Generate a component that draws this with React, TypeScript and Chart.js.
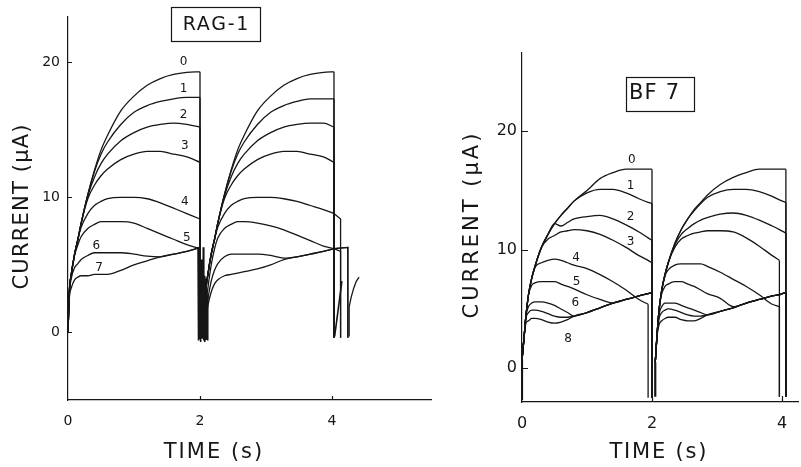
import React, { useEffect, useRef } from "react";
import { Chart, registerables } from "chart.js";

Chart.register(...registerables);

const INK = "#161616";
const FONT = "'DejaVu Sans', 'Liberation Sans', sans-serif";

// ---------------- RAG-1 (left panel) ----------------
const RAG_X_TICKS = [0, 2, 4];
const RAG_Y_TICKS = [0, 10, 20];
const RAG_LABELS = ["0", "1", "2", "3", "4", "5", "6", "7"];
const RAG_LABEL_T = [1.75, 1.75, 1.75, 1.77, 1.77, 1.8, 0.43, 0.47];
const RAG_LABEL_V = [20.0, 18.0, 16.1, 13.8, 9.7, 7.0, 6.4, 4.8];

const RAG_T1 = [0, 0.02, 0.05, 0.1, 0.15, 0.2, 0.3, 0.4, 0.5, 0.6, 0.8, 1.0, 1.2, 1.4, 1.6, 1.8, 2.0];
const RAG_A0 = [0, 3.0, 4.3, 5.8, 6.9, 8.1, 10.2, 12.0, 13.5, 14.6, 16.4, 17.5, 18.3, 18.8, 19.1, 19.25, 19.3];
const RAG_A1 = [0, 3.0, 4.3, 5.8, 6.9, 8.1, 10.2, 11.9, 13.2, 14.1, 15.4, 16.3, 16.8, 17.1, 17.3, 17.4, 17.4];
const RAG_A2 = [0, 3.0, 4.3, 5.8, 6.9, 8.1, 10.1, 11.5, 12.5, 13.2, 14.2, 14.8, 15.2, 15.4, 15.5, 15.4, 15.2];
const RAG_A3 = [0, 3.0, 4.3, 5.8, 6.9, 8.1, 9.9, 10.9, 11.6, 12.1, 12.8, 13.2, 13.4, 13.4, 13.2, 13.0, 12.6];
const RAG_A4 = [0, 3.0, 4.3, 5.8, 6.9, 7.8, 8.8, 9.4, 9.7, 9.9, 10.0, 10.0, 9.9, 9.6, 9.2, 8.8, 8.4];
const RAG_A5 = [0, 3.0, 4.3, 5.7, 6.5, 7.1, 7.7, 8.0, 8.2, 8.2, 8.2, 8.1, 7.7, 7.3, 6.9, 6.5, 6.2];
const RAG_A6 = [0, 2.8, 4.0, 4.8, 5.1, 5.4, 5.7, 5.9, 5.9, 5.9, 5.9, 5.8, 5.65, 5.6, 5.8, 6.0, 6.3];
const RAG_A7 = [0, 2.5, 3.3, 3.9, 4.1, 4.2, 4.2, 4.3, 4.3, 4.3, 4.6, 5.0, 5.3, 5.6, 5.8, 6.0, 6.3];

const RAG_T2 = [2.07, 2.09, 2.12, 2.17, 2.22, 2.27, 2.37, 2.47, 2.57, 2.67, 2.87, 3.07, 3.27, 3.47, 3.67, 3.87, 4.03];
const RAG_B0 = [0, 3.0, 4.3, 5.8, 6.9, 8.1, 10.2, 12.0, 13.5, 14.6, 16.4, 17.5, 18.3, 18.8, 19.1, 19.25, 19.3];
const RAG_B1 = [0, 3.0, 4.3, 5.8, 6.9, 8.1, 10.2, 11.9, 13.2, 14.1, 15.4, 16.3, 16.8, 17.1, 17.3, 17.3, 17.3];
const RAG_B2 = [0, 3.0, 4.3, 5.8, 6.9, 8.1, 10.1, 11.5, 12.5, 13.2, 14.2, 14.8, 15.2, 15.4, 15.5, 15.5, 15.2];
const RAG_B3 = [0, 3.0, 4.3, 5.8, 6.9, 8.1, 9.9, 10.9, 11.6, 12.1, 12.8, 13.2, 13.4, 13.4, 13.2, 13.0, 12.6];
const RAG_B4 = [0, 3.0, 4.3, 5.8, 6.9, 7.8, 8.8, 9.4, 9.7, 9.9, 10.0, 10.0, 9.9, 9.7, 9.4, 9.1, 8.8];
const RAG_B5 = [0, 2.0, 3.3, 5.0, 6.2, 7.0, 7.7, 8.0, 8.2, 8.2, 8.1, 7.9, 7.6, 7.2, 6.8, 6.4, 6.2];
const RAG_B6 = [0, 1.5, 2.5, 3.8, 4.6, 5.1, 5.6, 5.8, 5.8, 5.8, 5.8, 5.7, 5.5, 5.6, 5.8, 6.0, 6.2];
const RAG_B7 = [0, 1.0, 2.0, 3.0, 3.6, 3.9, 4.2, 4.3, 4.4, 4.5, 4.7, 5.0, 5.4, 5.6, 5.8, 6.0, 6.2];

const RAG_END1_T = [2.0, 2.0, 2.0, 2.0, 2.0, 2.0, 2.0, 2.0];
const RAG_END2_T = [4.03, 4.03, 4.03, 4.03, 4.13, 4.13, 4.24, 4.24];
const RAG_END2_V = [19.3, 17.3, 15.2, 12.6, 8.4, 6.0, 6.3, 6.3];

// switching transients
const RAG_SPIKE_T = [1.97, 1.975, 1.98, 1.985, 1.99, 1.995, 2.0, 2.005, 2.01, 2.015, 2.02, 2.025, 2.03, 2.035, 2.04, 2.045, 2.05, 2.055, 2.06, 2.065, 2.07, 2.075, 2.08, 2.085, 2.09, 2.095, 2.1, 2.105, 2.11, 2.115, 2.12];
const RAG_SPIKE_V = [6.3, -0.6, 5.6, 0.1, 5.2, -0.5, 5.0, 0.2, 4.8, -0.7, 5.4, 0.1, 5.0, -0.4, 4.6, 0.2, 6.3, -0.6, 4.4, 0.1, 4.2, -0.7, 4.0, 0.2, 3.6, -0.5, 3.2, 0.2, 2.8, -0.6, 2.4];
const RAG_DIAG_T = [4.04, 4.15];
const RAG_DIAG_V = [-0.3, 3.8];
const RAG_HOOK_T = [4.26, 4.26, 4.29, 4.33, 4.37, 4.41];
const RAG_HOOK_V = [-0.3, 1.9, 2.6, 3.3, 3.8, 4.1];

// ---------------- BF 7 (right panel) ----------------
const BF_X_TICKS = [0, 2, 4];
const BF_Y_TICKS = [0, 10, 20];
const BF_LABELS = ["0", "1", "2", "3", "4", "5", "6", "8"];
const BF_LABEL_T = [1.69, 1.67, 1.67, 1.67, 0.83, 0.84, 0.82, 0.71];
const BF_LABEL_V = [17.6, 15.4, 12.8, 10.7, 9.3, 7.3, 5.5, 2.5];

const BF_T1 = [0, 0.03, 0.06, 0.1, 0.15, 0.2, 0.3, 0.4, 0.5, 0.6, 0.7, 0.8, 1.0, 1.2, 1.4, 1.6, 1.8, 1.94, 2.0];
const BF_A0 = [0.7, 2.5, 4.4, 6.2, 7.6, 8.6, 10.2, 11.3, 12.2, 12.9, 13.5, 14.1, 15.0, 16.0, 16.5, 16.8, 16.8, 16.8, 16.8];
const BF_A1 = [0.7, 2.5, 4.4, 6.2, 7.6, 8.6, 10.2, 11.3, 12.2, 12.9, 13.5, 14.1, 14.8, 15.1, 15.1, 14.8, 14.3, 14.0, 13.9];
const BF_A2 = [0.7, 2.5, 4.4, 6.2, 7.6, 8.6, 10.2, 11.3, 12.2, 12.0, 12.3, 12.6, 12.8, 12.9, 12.6, 12.1, 11.5, 11.0, 10.8];
const BF_A3 = [0.7, 2.5, 4.4, 6.2, 7.6, 8.6, 10.2, 10.9, 11.2, 11.5, 11.6, 11.7, 11.6, 11.3, 10.8, 10.2, 9.5, 9.1, 8.9];
const BF_A4 = [0.7, 2.5, 4.4, 6.2, 7.6, 8.5, 8.9, 9.1, 9.2, 9.1, 8.9, 8.7, 8.4, 7.9, 7.3, 6.6, 5.8, 5.4, null];
const BF_A5 = [0.7, 2.5, 4.4, 6.2, 7.0, 7.2, 7.3, 7.3, 7.3, 7.1, 6.9, 6.7, 6.2, 5.8, 5.5, 5.8, 6.1, 6.3, 6.4];
const BF_A6 = [0.7, 2.5, 4.4, 5.2, 5.5, 5.6, 5.6, 5.5, 5.3, 5.0, 4.7, 4.4, 4.7, 5.1, 5.5, 5.8, 6.1, 6.3, 6.4];
const BF_A7 = [0.7, 2.5, 4.2, 4.7, 4.9, 4.9, 4.8, 4.6, 4.4, 4.3, 4.3, 4.4, 4.7, 5.1, 5.5, 5.8, 6.1, 6.3, 6.4];
const BF_A8 = [0.7, 2.4, 3.8, 4.0, 4.2, 4.2, 4.1, 3.9, 3.8, 3.9, 4.1, 4.4, 4.7, 5.1, 5.5, 5.8, 6.1, 6.3, 6.4];

const BF_T2 = [2.05, 2.08, 2.11, 2.15, 2.2, 2.25, 2.35, 2.45, 2.55, 2.65, 2.75, 2.85, 3.05, 3.25, 3.45, 3.65, 3.85, 3.96, 4.06];
const BF_B0 = [0.5, 3.0, 5.0, 6.6, 7.9, 8.9, 10.5, 11.7, 12.6, 13.4, 14.0, 14.6, 15.5, 16.1, 16.5, 16.8, 16.8, 16.8, 16.8];
const BF_B1 = [0.5, 3.0, 5.0, 6.6, 7.9, 8.9, 10.5, 11.7, 12.6, 13.3, 13.9, 14.4, 14.9, 15.1, 15.1, 14.9, 14.5, 14.2, 14.0];
const BF_B2 = [0.5, 3.0, 5.0, 6.6, 7.9, 8.9, 10.4, 11.3, 11.8, 12.2, 12.5, 12.7, 13.0, 13.1, 12.9, 12.5, 12.0, 11.7, 11.4];
const BF_B3 = [0.5, 3.0, 5.0, 6.6, 7.9, 8.9, 10.2, 10.9, 11.2, 11.4, 11.5, 11.6, 11.6, 11.5, 11.0, 10.3, 9.5, 9.1, null];
const BF_B4 = [0.5, 3.0, 5.0, 6.6, 7.8, 8.3, 8.7, 8.8, 8.8, 8.8, 8.8, 8.6, 8.1, 7.5, 6.9, 6.2, 5.4, 5.2, null];
const BF_B5 = [0.5, 3.0, 5.0, 6.3, 6.9, 7.1, 7.3, 7.3, 7.1, 6.9, 6.6, 6.3, 5.9, 5.2, 5.5, 5.8, 6.1, 6.2, 6.4];
const BF_B6 = [0.5, 3.0, 4.6, 5.2, 5.5, 5.5, 5.5, 5.3, 5.1, 4.9, 4.7, 4.5, 4.8, 5.1, 5.5, 5.8, 6.1, 6.2, 6.4];
const BF_B7 = [0.5, 3.0, 4.2, 4.7, 4.9, 5.0, 4.9, 4.7, 4.5, 4.4, 4.4, 4.5, 4.8, 5.1, 5.5, 5.8, 6.1, 6.2, 6.4];
const BF_B8 = [0.5, 2.8, 3.7, 4.0, 4.2, 4.3, 4.3, 4.1, 4.0, 4.0, 4.2, 4.5, 4.8, 5.1, 5.5, 5.8, 6.1, 6.2, 6.4];

const BF_END1_T = [2.0, 2.0, 2.0, 2.0, 1.94, 2.0, 2.0, 2.0, 2.0];
const BF_END2_T = [4.06, 4.06, 4.06, 3.96, 3.96, 4.06, 4.06, 4.06, 4.06];
const BF_RISE1_T = [0, 0];
const BF_RISE1_V = [-2.7, 0.7];
const BF_RISE2_T = [2.05, 2.05];
const BF_RISE2_V = [-2.4, 0.5];

// ---------------- building ----------------
type Pt = { x: number; y: number };
type Vals = (number | null)[];

function toPoints(t: number[], v: Vals): Pt[] {
  const out: Pt[] = [];
  t.forEach((x, i) => {
    const y = v[i];
    if (y !== null && y !== undefined) out.push({ x, y });
  });
  return out;
}

function dropPoints(pulse: Pt[], endT: number, endV: number | null, bottom: number): Pt[] {
  const last = pulse[pulse.length - 1];
  const y = endV === null || endV === undefined ? last.y : endV;
  return [last, { x: endT, y }, { x: endT, y: bottom }];
}

interface PanelSpec {
  left: number;
  width: number;
  xMax: number;
  yMin: number;
  yMax: number;
  yAxisW: number;
  xAxisH: number;
  padTop: number;
  padRight: number;
  xTicks: number[];
  yTicks: number[];
  tickFont: number;
  tickPadX: number;
  tickPadY: number;
  tickLen: number;
  t1: number[];
  t2: number[];
  pulse1: Vals[];
  pulse2: Vals[];
  end1T: number[];
  end2T: number[];
  end2V: Vals;
  drop1: number;
  drop2: number;
  extras: { t: number[]; v: number[]; w: number }[];
  labels: string[];
  labelT: number[];
  labelV: number[];
  title: string;
  box: [number, number, number, number];
  titleCenter: [number, number];
  titleFont: number;
  titleSpacing: number;
  yTitleCenter: [number, number];
  yTitleSpacing: number;
  xTitleCenter: [number, number];
  xTitleSpacing: number;
}

const RAG_SPEC: PanelSpec = {
  left: 0,
  width: 440,
  xMax: 5.5,
  yMin: -5,
  yMax: 23.4,
  yAxisW: 68,
  xAxisH: 67,
  padTop: 15,
  padRight: 9,
  xTicks: RAG_X_TICKS,
  yTicks: RAG_Y_TICKS,
  tickFont: 14,
  tickPadX: 13,
  tickPadY: 8,
  tickLen: 4,
  t1: RAG_T1,
  t2: RAG_T2,
  pulse1: [RAG_A0, RAG_A1, RAG_A2, RAG_A3, RAG_A4, RAG_A5, RAG_A6, RAG_A7],
  pulse2: [RAG_B0, RAG_B1, RAG_B2, RAG_B3, RAG_B4, RAG_B5, RAG_B6, RAG_B7],
  end1T: RAG_END1_T,
  end2T: RAG_END2_T,
  end2V: RAG_END2_V,
  drop1: -0.4,
  drop2: -0.4,
  extras: [
    { t: RAG_SPIKE_T, v: RAG_SPIKE_V, w: 1.6 },
    { t: RAG_DIAG_T, v: RAG_DIAG_V, w: 1.6 },
    { t: RAG_HOOK_T, v: RAG_HOOK_V, w: 1.3 },
  ],
  labels: RAG_LABELS,
  labelT: RAG_LABEL_T,
  labelV: RAG_LABEL_V,
  title: "RAG-1",
  box: [171, 7, 89, 34],
  titleCenter: [215.5, 25],
  titleFont: 19,
  titleSpacing: 1.7,
  yTitleCenter: [23, 207],
  yTitleSpacing: 1.2,
  xTitleCenter: [213, 453],
  xTitleSpacing: 2,
};

const BF_SPEC: PanelSpec = {
  left: 440,
  width: 361,
  xMax: 4.25,
  yMin: -2.85,
  yMax: 26.6,
  yAxisW: 82,
  xAxisH: 65,
  padTop: 53,
  padRight: 2.75,
  xTicks: BF_X_TICKS,
  yTicks: BF_Y_TICKS,
  tickFont: 16,
  tickPadX: 12,
  tickPadY: 5,
  tickLen: 6,
  t1: BF_T1,
  t2: BF_T2,
  pulse1: [BF_A0, BF_A1, BF_A2, BF_A3, BF_A4, BF_A5, BF_A6, BF_A7, BF_A8],
  pulse2: [BF_B0, BF_B1, BF_B2, BF_B3, BF_B4, BF_B5, BF_B6, BF_B7, BF_B8],
  end1T: BF_END1_T,
  end2T: BF_END2_T,
  end2V: BF_END2_T.map(() => null),
  drop1: -2.5,
  drop2: -2.4,
  extras: [
    { t: BF_RISE1_T, v: BF_RISE1_V, w: 2.2 },
    { t: BF_RISE2_T, v: BF_RISE2_V, w: 2.2 },
  ],
  labels: BF_LABELS,
  labelT: BF_LABEL_T,
  labelV: BF_LABEL_V,
  title: "BF 7",
  box: [186, 77, 68, 34],
  titleCenter: [214, 94],
  titleFont: 21,
  titleSpacing: 1.2,
  yTitleCenter: [32.5, 226],
  yTitleSpacing: 3,
  xTitleCenter: [218, 453],
  xTitleSpacing: 1.8,
};

function buildDatasets(spec: PanelSpec) {
  const ds: any[] = [];
  const smooth = (data: Pt[]) => ({
    data,
    borderColor: INK,
    borderWidth: 1.3,
    pointRadius: 0,
    fill: false,
    cubicInterpolationMode: "monotone",
  });
  const straight = (data: Pt[], w = 1.3) => ({
    data,
    borderColor: INK,
    borderWidth: w,
    pointRadius: 0,
    fill: false,
    tension: 0,
  });
  spec.pulse1.forEach((vals, c) => {
    const p1 = toPoints(spec.t1, vals);
    const p2 = toPoints(spec.t2, spec.pulse2[c]);
    ds.push(smooth(p1));
    ds.push(straight(dropPoints(p1, spec.end1T[c], null, spec.drop1)));
    ds.push(smooth(p2));
    ds.push(straight(dropPoints(p2, spec.end2T[c], spec.end2V[c], spec.drop2)));
  });
  spec.extras.forEach((e) => ds.push(straight(toPoints(e.t, e.v), e.w)));
  return ds;
}

function annotationPlugin(spec: PanelSpec) {
  return {
    id: "panelAnnotations",
    afterDraw(chart: any) {
      const ctx: CanvasRenderingContext2D = chart.ctx;
      const xs = chart.scales.x;
      const ys = chart.scales.y;
      const area = chart.chartArea;
      ctx.save();
      ctx.strokeStyle = INK;
      ctx.fillStyle = INK;
      ctx.lineWidth = 1.2;
      // inward tick marks
      ctx.beginPath();
      spec.yTicks.forEach((v) => {
        const py = Math.round(ys.getPixelForValue(v)) + 0.5;
        ctx.moveTo(area.left, py);
        ctx.lineTo(area.left + spec.tickLen, py);
      });
      spec.xTicks.forEach((v) => {
        if (v === 0) return;
        const px = Math.round(xs.getPixelForValue(v)) + 0.5;
        ctx.moveTo(px, area.bottom);
        ctx.lineTo(px, area.bottom - spec.tickLen);
      });
      ctx.stroke();

      // curve numbers
      ctx.font = `12px ${FONT}`;
      ctx.textAlign = "center";
      ctx.textBaseline = "middle";
      spec.labels.forEach((s, i) => {
        ctx.fillText(s, xs.getPixelForValue(spec.labelT[i]), ys.getPixelForValue(spec.labelV[i]));
      });

      // boxed title
      const [bx, by, bw, bh] = spec.box;
      ctx.lineWidth = 1.2;
      ctx.strokeRect(bx + 0.5, by + 0.5, bw, bh);
      (ctx as any).letterSpacing = `${spec.titleSpacing}px`;
      ctx.font = `${spec.titleFont}px ${FONT}`;
      ctx.fillText(spec.title, spec.titleCenter[0] + spec.titleSpacing / 2, spec.titleCenter[1]);

      // axis titles
      ctx.font = `21px ${FONT}`;
      (ctx as any).letterSpacing = `${spec.xTitleSpacing}px`;
      ctx.fillText("TIME (s)", spec.xTitleCenter[0] + spec.xTitleSpacing / 2, spec.xTitleCenter[1]);
      (ctx as any).letterSpacing = `${spec.yTitleSpacing}px`;
      ctx.translate(spec.yTitleCenter[0], spec.yTitleCenter[1]);
      ctx.rotate(-Math.PI / 2);
      ctx.fillText("CURRENT (\u00B5A)", spec.yTitleSpacing / 2, 0);
      ctx.restore();
      (ctx as any).letterSpacing = "0px";
    },
  };
}

function Panel({ spec }: { spec: PanelSpec }) {
  const ref = useRef<HTMLCanvasElement | null>(null);
  useEffect(() => {
    if (!ref.current) return;
    const chart = new Chart(ref.current, {
      type: "line",
      data: { datasets: buildDatasets(spec) },
      options: {
        responsive: false,
        animation: false,
        events: [],
        layout: { padding: { top: spec.padTop, right: spec.padRight, left: 0, bottom: 0 } },
        plugins: { legend: { display: false }, tooltip: { enabled: false } },
        scales: {
          x: {
            type: "linear",
            min: 0,
            max: spec.xMax,
            grid: { display: false, drawTicks: false },
            border: { display: true, color: INK, width: 1.2 },
            ticks: {
              color: INK,
              font: { family: FONT, size: spec.tickFont },
              padding: spec.tickPadX,
              maxRotation: 0,
              autoSkip: false,
            },
            afterBuildTicks: (s: any) => {
              s.ticks = spec.xTicks.map((v) => ({ value: v }));
            },
            afterFit: (s: any) => {
              s.height = spec.xAxisH;
            },
          },
          y: {
            type: "linear",
            min: spec.yMin,
            max: spec.yMax,
            grid: { display: false, drawTicks: false },
            border: { display: true, color: INK, width: 1.2 },
            ticks: {
              color: INK,
              font: { family: FONT, size: spec.tickFont },
              padding: spec.tickPadY,
              autoSkip: false,
            },
            afterBuildTicks: (s: any) => {
              s.ticks = spec.yTicks.map((v) => ({ value: v }));
            },
            afterFit: (s: any) => {
              s.width = spec.yAxisW;
            },
          },
        },
      } as any,
      plugins: [annotationPlugin(spec)],
    });
    return () => chart.destroy();
  }, [spec]);
  return (
    <canvas
      ref={ref}
      width={spec.width}
      height={467}
      style={{ position: "absolute", left: spec.left, top: 0, width: spec.width, height: 467 }}
    />
  );
}

export default function App() {
  return (
    <div style={{ position: "absolute", left: 0, top: 0, width: 801, height: 467, background: "#ffffff", overflow: "hidden" }}>
      <Panel spec={RAG_SPEC} />
      <Panel spec={BF_SPEC} />
    </div>
  );
}
